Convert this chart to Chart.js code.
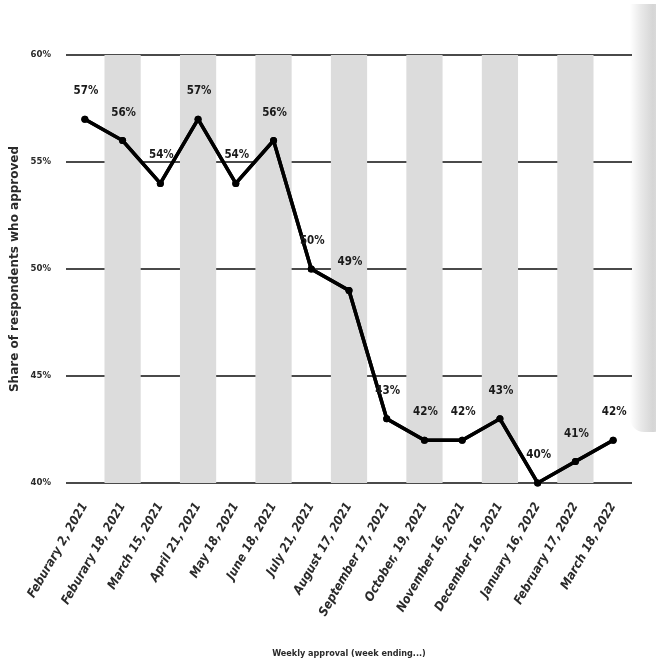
<!DOCTYPE html>
<html>
<head>
<meta charset="utf-8">
<script src="https://cdn.jsdelivr.net/npm/chart.js@4.4.1/dist/chart.umd.min.js"></script>
<style>
  html, body { margin: 0; padding: 0; background: #ffffff; }
  #wrap { position: relative; width: 656px; height: 663px; overflow: hidden; }
  #strip { position: absolute; left: 630px; top: 4px; width: 38px; height: 428px;
           border-radius: 0 0 14px 14px;
           background: linear-gradient(to right, rgba(255,255,255,0) 0%, #e8e8e8 30%, #d6d6d6 60%, #e4e4e4 100%); }
  canvas { position: absolute; left: 0; top: 0; }
</style>
</head>
<body>
<div id="wrap">
  <div id="strip"></div>
  <canvas id="c" width="656" height="663"></canvas>
</div>
<script>
const categories = [
  "Feburary 2, 2021", "Feburary 18, 2021", "March 15, 2021", "April 21, 2021",
  "May 18, 2021", "June 18, 2021", "July 21, 2021", "August 17, 2021",
  "September 17, 2021", "October, 19, 2021", "November 16, 2021", "December 16, 2021",
  "January 16, 2022", "February 17, 2022", "March 18, 2022"
];
const approval = [57, 56, 54, 57, 54, 56, 50, 49, 43, 42, 42, 43, 40, 41, 42];
const bandValues = [null, 60, null, 60, null, 60, null, 60, null, 60, null, 60, null, 60, null];
const yTicks = [40, 45, 50, 55, 60];
const yTitle = "Share of respondents who approved";
const xTitle = "Weekly approval (week ending...)";

const condensed = "'Liberation Sans Narrow', 'DejaVu Sans Condensed', 'Roboto', sans-serif";

const topLayer = {
  id: 'topLayer',
  afterDraw(chart) {
    const meta = chart.getDatasetMeta(1);
    const ctx = chart.ctx;
    ctx.save();
    meta.controller.draw();
    ctx.restore();
    ctx.save();
    ctx.font = "bold 11.5px " + condensed;
    ctx.fillStyle = "#1a1a1a";
    ctx.textAlign = "center";
    ctx.textBaseline = "middle";
    meta.data.forEach((pt, i) => {
      ctx.fillText(approval[i] + "%", pt.x + 1, pt.y - 28);
    });
    ctx.restore();
  }
};

new Chart(document.getElementById('c'), {
  data: {
    labels: categories,
    datasets: [
      {
        type: 'bar',
        data: bandValues,
        backgroundColor: '#dcdcdc',
        borderWidth: 0,
        barPercentage: 0.96,
        categoryPercentage: 1.0,
        order: 2
      },
      {
        type: 'line',
        data: approval,
        borderColor: '#000000',
        borderWidth: 3.5,
        pointRadius: 3.5,
        pointBackgroundColor: '#000000',
        pointBorderColor: '#000000',
        pointBorderWidth: 0,
        tension: 0,
        clip: false,
        order: 1
      }
    ]
  },
  plugins: [topLayer],
  options: {
    responsive: false,
    animation: false,
    events: [],
    layout: { padding: { top: 55, left: 8, right: 24, bottom: 4 } },
    plugins: { legend: { display: false }, tooltip: { enabled: false } },
    scales: {
      x: {
        offset: true,
        grid: { display: false, drawTicks: false },
        border: { display: false },
        ticks: {
          autoSkip: false, maxRotation: 60, minRotation: 60, padding: 17,
          color: '#2a2a2a',
          font: { family: condensed, size: 12.5, style: 'italic', weight: 'bold' }
        },
        title: {
          display: true, text: xTitle, color: '#2a2a2a',
          font: { family: condensed, size: 9, weight: 'bold' },
          padding: { top: 0, bottom: 0 }
        },
        afterFit(scale) { scale.height = 176; }
      },
      y: {
        min: 40, max: 60, z: 1,
        afterBuildTicks(scale) { scale.ticks = yTicks.map(v => ({ value: v })); },
        grid: { color: '#4a4a4a', lineWidth: 2, drawTicks: false },
        border: { display: false },
        ticks: {
          padding: 15, color: '#2a2a2a',
          font: { family: condensed, size: 9.5, weight: 'bold' },
          callback: v => v + '%'
        },
        title: {
          display: true, text: yTitle, color: '#2a2a2a',
          font: { family: "'DejaVu Sans', sans-serif", size: 12, weight: 'bold' },
          padding: { top: 0, bottom: 0 }
        },
        afterFit(scale) { scale.width = 58; }
      }
    }
  }
});
</script>
</body>
</html>
